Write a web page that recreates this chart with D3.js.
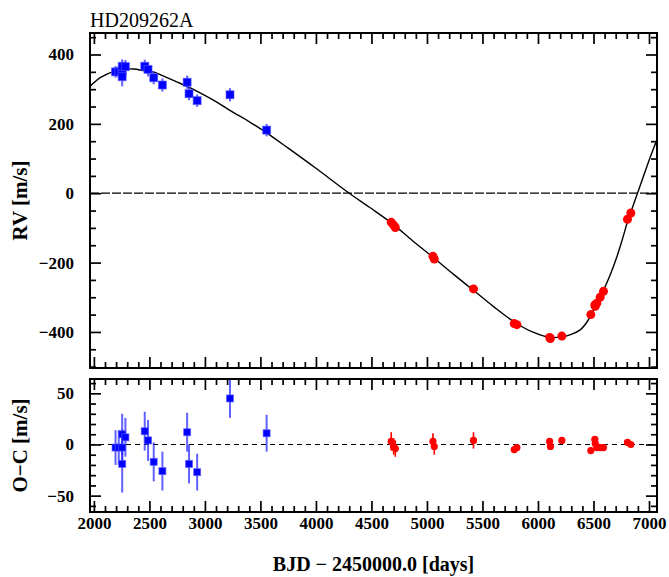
<!DOCTYPE html>
<html>
<head>
<meta charset="utf-8">
<script src="https://cdn.jsdelivr.net/npm/d3@7"></script>
<style>
  body { margin: 0; background: #fff; }
  text { font-family: "Liberation Serif", "DejaVu Serif", serif; }
</style>
</head>
<body>
<div id="chart"></div>
<script>
// data (days = BJD - 2450000)
var blueDays = [2195, 2224, 2255, 2255, 2255, 2284, 2458, 2488, 2539, 2617, 2840, 2857, 2930, 3226, 3556];
var blueRV   = [350, 350, 352, 366, 336, 365, 366, 357, 333, 312, 320, 287, 267, 284, 182];
var blueRes  = [-3, -3, -3, 10, -19, 7, 13, 4, -17, -26, 12, -19, -27, 45, 11];
var blueErr  = [17, 17, 18, 20, 28, 19, 19, 20, 19, 19, 19, 19, 18, 19, 18];

var redDays = [4678, 4700, 4715, 5054, 5066, 5419, 5786, 5810, 6105, 6112, 6215, 6476, 6512, 6516, 6530, 6560, 6590, 6806, 6836];
var redRV   = [-84, -92, -99, -182, -190, -276, -376, -379, -416, -419, -412, -350, -322, -326, -317, -300, -283, -75, -57];
var redRes  = [3, -2, -4, 3, -2, 4, -5, -3, 3, -2, 4, -6, 5, 1, -3, -3, -3, 2, 0];
var redErr  = [9, 8, 8, 8, 8, 8, 3, 3, 3, 3, 3, 3, 3, 3, 3, 3, 3, 3, 3];

// fitted curve
var fitDays = [1965, 2060, 2195, 2284, 2356, 2458, 2539, 2617, 2740, 2840, 2930, 3080, 3229, 3400, 3556, 3750, 4000, 4300, 4489, 4685, 4870, 5060, 5240, 5419, 5600, 5790, 5950, 6110, 6215, 6300, 6380, 6440, 6485, 6530, 6590, 6650, 6710, 6760, 6815, 6860, 6905, 6960, 7010, 7072];
var fitRV   = [308, 334, 353, 358, 358, 353, 349, 339, 322, 308, 294, 268, 238, 206, 174, 130, 72, 0, -42, -87, -137, -186, -234, -280, -327, -372, -400, -416, -414, -407, -394, -372, -347, -320, -280, -236, -184, -133, -73, -33, 8, 58, 103, 155];

var xTicks = [2000, 2500, 3000, 3500, 4000, 4500, 5000, 5500, 6000, 6500, 7000];
var rvTicks = [-400, -200, 0, 200, 400];
var resTicks = [-50, 0, 50];

var W = 669, H = 577;
var left = 90, right = 657;
var mainTop = 33, mainBot = 368;
var resTop = 379, resBot = 512;

var svg = d3.select("#chart").append("svg")
  .attr("width", W).attr("height", H);

svg.append("rect").attr("width", W).attr("height", H).attr("fill", "white");

var x = d3.scaleLinear().domain([1965, 7072]).range([left, right]);
var y = d3.scaleLinear().domain([-504, 462]).range([mainBot, mainTop]);
var yr = d3.scaleLinear().domain([-66, 64]).range([resBot, resTop]);

var minorX = d3.range(1900, 7101, 100).filter(d => d % 500 != 0 && d >= 1965 && d <= 7072);
var minorRV = d3.range(-500, 451, 50).filter(d => d % 200 != 0);
var minorRes = d3.range(-60, 61, 10).filter(d => d % 50 != 0);

// ticks on all four sides, pointing inward
function frame(ys, top, bot, majorY, minorY, labelX) {
  var g = svg.append("g");
  var tk = [
    [d3.axisBottom(x), "translate(0," + bot + ")", true],
    [d3.axisTop(x), "translate(0," + top + ")", false]
  ];
  tk.forEach(function (t) {
    g.append("g").attr("class", "ax").attr("transform", t[1])
      .call(t[0].tickValues(xTicks).tickSize(-11).tickPadding(5)
        .tickFormat(t[2] && labelX ? d3.format("d") : ""));
    g.append("g").attr("class", "ax").attr("transform", t[1])
      .call(t[0].tickValues(minorX).tickSize(-6).tickFormat(""));
  });
  var yk = [
    [d3.axisLeft(ys), "translate(" + left + ",0)", true],
    [d3.axisRight(ys), "translate(" + right + ",0)", false]
  ];
  yk.forEach(function (t) {
    g.append("g").attr("class", "ax").attr("transform", t[1])
      .call(t[0].tickValues(majorY).tickSize(-11).tickPadding(16)
        .tickFormat(t[2] ? d3.format("d") : ""));
    g.append("g").attr("class", "ax").attr("transform", t[1])
      .call(t[0].tickValues(minorY).tickSize(-6).tickFormat(""));
  });
  g.selectAll(".ax .domain").remove();
  g.selectAll(".ax line").attr("stroke", "black").attr("stroke-width", 1.7);
  g.selectAll(".ax text").attr("font-size", 17).attr("font-weight", "bold")
    .attr("fill", "black").style("font-family", '"Liberation Serif", serif');
  g.append("rect").attr("x", left).attr("y", top)
    .attr("width", right - left).attr("height", bot - top)
    .attr("fill", "none").attr("stroke", "black").attr("stroke-width", 2);
}

// clip for the panels
svg.append("clipPath").attr("id", "clipMain").append("rect")
  .attr("x", left).attr("y", mainTop).attr("width", right - left).attr("height", mainBot - mainTop);
svg.append("clipPath").attr("id", "clipRes").append("rect")
  .attr("x", left).attr("y", resTop).attr("width", right - left).attr("height", resBot - resTop);

var mainG = svg.append("g").attr("clip-path", "url(#clipMain)");
var resG = svg.append("g").attr("clip-path", "url(#clipRes)");

// zero lines
mainG.append("line").attr("x1", left).attr("x2", right)
  .attr("y1", y(0)).attr("y2", y(0))
  .attr("stroke", "black").attr("stroke-width", 1.2).attr("stroke-dasharray", "9,2");
resG.append("line").attr("x1", left).attr("x2", right)
  .attr("y1", yr(0)).attr("y2", yr(0))
  .attr("stroke", "black").attr("stroke-width", 1.2).attr("stroke-dasharray", "5,4");

// fit
var fit = fitDays.map((d, i) => [d, fitRV[i]]);
mainG.append("path").datum(fit)
  .attr("d", d3.line().x(d => x(d[0])).y(d => y(d[1])).curve(d3.curveCatmullRom.alpha(0.5)))
  .attr("fill", "none").attr("stroke", "black").attr("stroke-width", 1.4);

var blue = blueDays.map((d, i) => ({day: d, rv: blueRV[i], res: blueRes[i], err: blueErr[i]}));
var red = redDays.map((d, i) => ({day: d, rv: redRV[i], res: redRes[i], err: redErr[i]}));

function points(g, ys, key, sq, rc) {
  g.selectAll(".bb").data(blue).join("line")
    .attr("x1", d => x(d.day)).attr("x2", d => x(d.day))
    .attr("y1", d => ys(d[key] - d.err)).attr("y2", d => ys(d[key] + d.err))
    .attr("stroke", "rgba(30,30,255,0.7)").attr("stroke-width", 2);
  g.selectAll(".bs").data(blue).join("rect")
    .attr("x", d => x(d.day) - sq / 2).attr("y", d => ys(d[key]) - sq / 2)
    .attr("width", sq).attr("height", sq)
    .attr("fill", "#0000ff").attr("stroke", "rgba(90,90,255,0.6)").attr("stroke-width", 1);
  g.selectAll(".rb").data(red).join("line")
    .attr("x1", d => x(d.day)).attr("x2", d => x(d.day))
    .attr("y1", d => ys(d[key] - d.err)).attr("y2", d => ys(d[key] + d.err))
    .attr("stroke", "#ff0000").attr("stroke-width", 1.6);
  g.selectAll(".rc").data(red).join("circle")
    .attr("cx", d => x(d.day)).attr("cy", d => ys(d[key])).attr("r", rc)
    .attr("fill", "#ff0000");
}
points(mainG, y, "rv", 8, 4.5);
points(resG, yr, "res", 7, 3.6);

frame(y, mainTop, mainBot, rvTicks, minorRV, false);
frame(yr, resTop, resBot, resTicks, minorRes, true);

// labels
svg.append("text").attr("x", left).attr("y", 27)
  .attr("font-size", 20).text("HD209262A");

svg.append("text")
  .attr("transform", "translate(27," + ((mainTop + mainBot) / 2) + ") rotate(-90)")
  .attr("text-anchor", "middle").attr("font-size", 21).attr("font-weight", "bold")
  .text("RV [m/s]");
svg.append("text")
  .attr("transform", "translate(27," + ((resTop + resBot) / 2) + ") rotate(-90)")
  .attr("text-anchor", "middle").attr("font-size", 21).attr("font-weight", "bold")
  .text("O\u2212C [m/s]");
svg.append("text").attr("x", (left + right) / 2).attr("y", 571)
  .attr("text-anchor", "middle").attr("font-size", 20).attr("font-weight", "bold")
  .text("BJD \u2212 2450000.0 [days]");
</script>
</body>
</html>
